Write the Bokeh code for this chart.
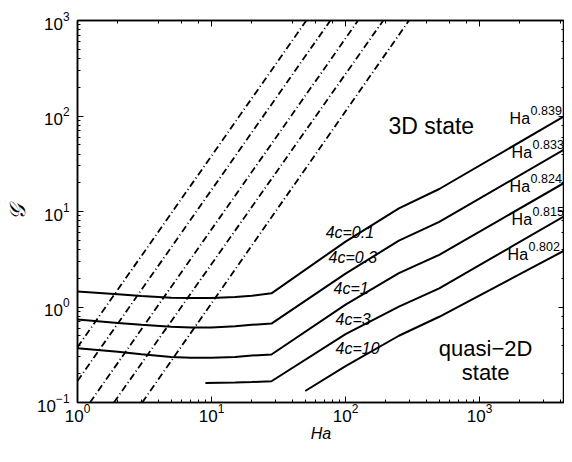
from bokeh.plotting import figure
from bokeh.models import LogAxis, Range1d, LogTicker, ColumnDataSource, CustomJSTickFormatter
from bokeh.core.properties import value
from bokeh.embed import file_html
from bokeh.resources import INLINE

FONT = "Liberation Sans"

# ---- solid curves (Ha, g) ----
ha_c01 = [1, 2, 3, 5, 7, 10, 15, 20, 28, 100, 250, 500, 5000]
g_c01 = [1.45, 1.36, 1.30, 1.25, 1.24, 1.24, 1.27, 1.31, 1.39, 4.84, 10.8, 17.2, 112.7]

ha_c03 = [1, 2, 3, 5, 7, 10, 15, 20, 28, 100, 250, 500, 5000]
g_c03 = [0.74, 0.68, 0.65, 0.62, 0.61, 0.61, 0.63, 0.65, 0.67, 2.24, 4.95, 7.78, 50.7]

ha_c1 = [1, 2, 3, 5, 7, 10, 15, 20, 28, 100, 250, 500, 5000]
g_c1 = [0.37, 0.34, 0.32, 0.30, 0.295, 0.295, 0.30, 0.31, 0.318, 1.06, 2.26, 3.52, 22.6]

ha_c3 = [9, 15, 20, 28, 100, 250, 500, 5000]
g_c3 = [0.160, 0.162, 0.164, 0.167, 0.52, 1.01, 1.57, 10.1]

ha_c10 = [50, 100, 250, 500, 5000]
g_c10 = [0.132, 0.24, 0.50, 0.79, 4.37]

# ---- dash-dot lines (end points) ----
dash_ha = [[1, 51], [1, 77], [1.24, 124], [1.87, 191], [3.04, 297]]
dash_g = [[0.38, 1000], [0.168, 1000], [0.1, 1000], [0.1, 1000], [0.1, 1000]]

# ---- curve labels ----
c_labels = ["4c=0.1", "4c=0.3", "4c=1", "4c=3", "4c=10"]
c_label_ha = [71, 74.7, 81.4, 84.2, 84.2]
c_label_g = [6.1, 3.27, 1.56, 0.736, 0.364]

exp_labels = ["0.839", "0.833", "0.824", "0.815", "0.802"]
exp_label_ha = [1675, 1733, 1675, 1733, 1618]
exp_label_g = [93.1, 41.4, 18.4, 8.28, 3.56]

# visible axis extent (the right end of the original box lies at the window edge)
x_lo, x_hi = 1, 4300
y_lo, y_hi = 0.1, 1000

p = figure(width=564, height=446, x_axis_type="log", y_axis_type="log",
           x_range=Range1d(x_lo, x_hi), y_range=Range1d(y_lo, y_hi),
           output_backend="svg", toolbar_location=None,
           min_border_left=77, min_border_right=0, min_border_top=20,
           min_border_bottom=44)
p.grid.visible = False
p.outline_line_color = "black"
p.outline_line_width = 1.5
p.background_fill_color = "white"
p.border_fill_color = "white"

for ax in (p.xaxis[0], p.yaxis[0]):
    ax.axis_line_width = 1.5
    ax.axis_line_color = "black"
    ax.major_tick_line_color = "black"
    ax.minor_tick_line_color = "black"
    ax.major_tick_in = 6
    ax.major_tick_out = 0
    ax.minor_tick_in = 3
    ax.minor_tick_out = 0
    ax.major_label_text_font = FONT
    ax.major_label_text_font_size = "17px"
    ax.major_label_text_color = "black"
    ax.axis_label_text_font = FONT
    ax.axis_label_text_font_style = "italic"
    ax.axis_label_text_font_size = "16px"
    ax.axis_label_text_color = "black"

p.xaxis.axis_label = "Ha"
p.xaxis.major_label_standoff = 1
p.xaxis.axis_label_standoff = 0
p.yaxis.axis_label = "𝒢"
p.yaxis.axis_label_text_font = "DejaVu Serif"
p.yaxis.axis_label_text_font_size = "22px"
p.yaxis.major_label_standoff = 8
p.yaxis.axis_label_standoff = 4
p.yaxis.major_label_orientation = "horizontal"

for loc in ("above", "right"):
    ax = LogAxis(ticker=LogTicker(), formatter=CustomJSTickFormatter(code="return ''"))
    ax.major_label_text_font_size = "1px"
    ax.major_label_standoff = -10 if loc == "right" else 0
    ax.axis_line_width = 1.5
    ax.axis_line_color = "black"
    ax.major_tick_line_color = "black"
    ax.minor_tick_line_color = "black"
    ax.major_tick_in = 6
    ax.major_tick_out = 0
    ax.minor_tick_in = 3
    ax.minor_tick_out = 0
    p.add_layout(ax, loc)

# dash-dot lines
for xs, ys in zip(dash_ha, dash_g):
    p.line(xs, ys, line_color="black", line_width=1.8, line_dash="7 3 1 3")

# solid curves
for xs, ys in ((ha_c01, g_c01), (ha_c03, g_c03), (ha_c1, g_c1), (ha_c3, g_c3), (ha_c10, g_c10)):
    p.line(xs, ys, line_color="black", line_width=2)

src_c = ColumnDataSource(dict(x=c_label_ha, y=c_label_g, t=c_labels))
p.text(x="x", y="y", text="t", source=src_c, text_font=value(FONT),
       text_font_style="italic", text_font_size="16px", text_baseline="alphabetic",
       text_align="left", text_color="black")

src_e = ColumnDataSource(dict(x=exp_label_ha, y=exp_label_g, t=exp_labels,
                              h=["Ha"] * len(exp_labels)))
p.text(x="x", y="y", text="h", source=src_e, text_font=value(FONT),
       text_font_size="16px", text_baseline="alphabetic", text_align="left",
       text_color="black")
p.text(x="x", y="y", text="t", source=src_e, text_font=value(FONT),
       text_font_size="12.5px", text_baseline="alphabetic", text_align="left",
       text_color="black", x_offset=21, y_offset=-8)

p.text(x=[209], y=[79.1], text=["3D state"], text_font=value(FONT),
       text_font_size="23px", text_baseline="alphabetic", text_align="left",
       text_color="black")
p.text(x=[1109, 1109], y=[0.372, 0.207], text=["quasi\u22122D", "state"],
       text_font=value(FONT), text_font_size="22px", text_baseline="alphabetic",
       text_align="center", text_color="black")

open("out.html", "w").write(file_html(p, INLINE))
